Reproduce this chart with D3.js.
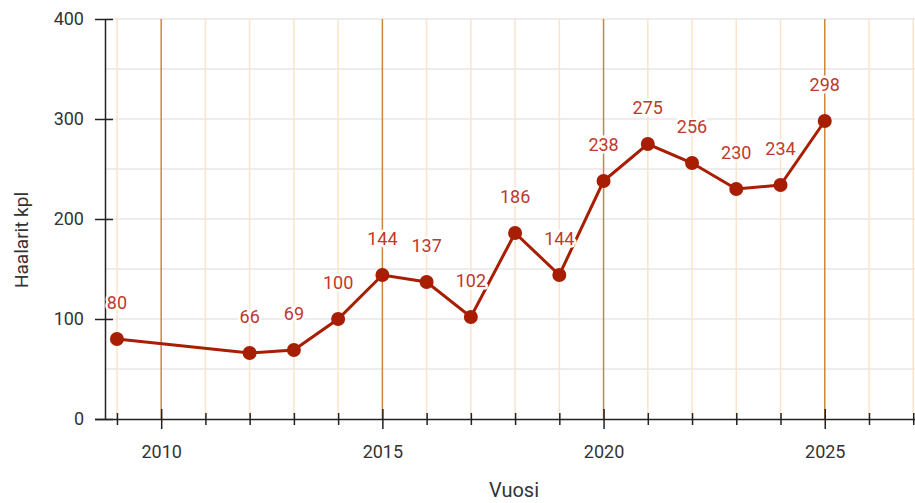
<!DOCTYPE html>
<html>
<head>
<meta charset="utf-8">
<script src="https://cdn.jsdelivr.net/npm/d3@7"></script>
<style>
  body { margin: 0; background: #fff; }
  svg { display: block; font-family: Roboto, sans-serif; }
</style>
</head>
<body>
<div class="canvas"></div>
<script>
// data
const years = [2009, 2012, 2013, 2014, 2015, 2016, 2017, 2018, 2019, 2020, 2021, 2022, 2023, 2024, 2025]
const counts = [80, 66, 69, 100, 144, 137, 102, 186, 144, 238, 275, 256, 230, 234, 298]
const yTicks = [0, 100, 200, 300, 400]
const xMajor = [2010, 2015, 2020, 2025]

const data = years.map((y, i) => ({ year: y, value: counts[i] }))

const dims = { width: 915, height: 503 }
const plot = { left: 105, right: 915, top: 19, bottom: 419 }

const svg = d3.select('.canvas')
    .append('svg')
    .attr('width', dims.width)
    .attr('height', dims.height)

const x = d3.scaleLinear()
    .domain([2008.73, 2027.04])
    .range([plot.left, plot.right])

const y = d3.scaleLinear()
    .domain([0, 400])
    .range([plot.bottom, plot.top])

const xMinor = d3.range(2009, 2028)

// grid: horizontal every 50
svg.append('g')
    .selectAll('line')
    .data(d3.range(50, 401, 50))
    .join('line')
        .attr('x1', plot.left).attr('x2', plot.right)
        .attr('y1', d => y(d)).attr('y2', d => y(d))
        .attr('stroke', '#dcdcdc')
        .attr('stroke-width', 1.2)

// grid: vertical yearly (light) and five-yearly (orange)
svg.append('g')
    .selectAll('line')
    .data(xMinor.filter(d => !xMajor.includes(d)))
    .join('line')
        .attr('x1', d => x(d)).attr('x2', d => x(d))
        .attr('y1', plot.top).attr('y2', plot.bottom)
        .attr('stroke', '#fde3c9')
        .attr('stroke-width', 1.5)

svg.append('g')
    .selectAll('line')
    .data(xMajor)
    .join('line')
        .attr('x1', d => x(d)).attr('x2', d => x(d))
        .attr('y1', plot.top).attr('y2', plot.bottom)
        .attr('stroke', '#cd8638')
        .attr('stroke-width', 1.5)

// axes
const yAxis = d3.axisLeft(y)
    .tickValues(yTicks)
    .tickSizeInner(-10)
    .tickSizeOuter(0)
    .tickPadding(21)

const yG = svg.append('g')
    .attr('transform', `translate(${plot.left},0)`)
    .call(yAxis)
yG.selectAll('.tick line').attr('x1', -10).attr('x2', 8)

const xAxisMinor = d3.axisBottom(x)
    .tickValues(xMinor.filter(d => !xMajor.includes(d)))
    .tickFormat('')
    .tickSize(6)
    .tickSizeOuter(0)

const xMinorG = svg.append('g')
    .attr('transform', `translate(0,${plot.bottom})`)
    .call(xAxisMinor)
xMinorG.selectAll('.tick line').attr('y1', -6).attr('y2', 6)
xMinorG.select('.domain').remove()

const xAxis = d3.axisBottom(x)
    .tickValues(xMajor)
    .tickFormat(d3.format('d'))
    .tickSize(10)
    .tickSizeOuter(0)
    .tickPadding(16)

const xG = svg.append('g')
    .attr('transform', `translate(0,${plot.bottom})`)
    .call(xAxis)
xG.selectAll('.tick line').attr('y1', -10).attr('y2', 10)

svg.selectAll('.domain, .tick line')
    .attr('stroke', '#222')
    .attr('stroke-width', 1.5)
xG.select('.domain').attr('d', `M${plot.left - 10},0.5H${plot.right}`)

svg.selectAll('.tick text')
    .attr('font-size', 18)
    .attr('fill', '#333')
    .attr('font-family', 'Roboto, sans-serif')

// axis titles
svg.append('text')
    .attr('transform', `translate(28,240) rotate(-90)`)
    .attr('text-anchor', 'middle')
    .attr('font-size', 19)
    .attr('fill', '#333')
    .text('Haalarit kpl')

svg.append('text')
    .attr('x', 514)
    .attr('y', 497)
    .attr('text-anchor', 'middle')
    .attr('font-size', 20)
    .attr('fill', '#333')
    .text('Vuosi')

// line + points
const line = d3.line()
    .x(d => x(d.year))
    .y(d => y(d.value))

svg.append('path')
    .datum(data)
    .attr('d', line)
    .attr('fill', 'none')
    .attr('stroke', '#a81e02')
    .attr('stroke-width', 3)

svg.append('g')
    .selectAll('circle')
    .data(data)
    .join('circle')
        .attr('cx', d => x(d.year))
        .attr('cy', d => y(d.value))
        .attr('r', 7)
        .attr('fill', '#a81e02')

// value labels with white halo
svg.append('g')
    .selectAll('text')
    .data(data)
    .join('text')
        .attr('x', d => x(d.year))
        .attr('y', d => y(d.value) - 30)
        .attr('text-anchor', 'middle')
        .attr('font-size', 18)
        .attr('fill', '#c0392b')
        .attr('stroke', '#fff')
        .attr('stroke-width', 5)
        .attr('stroke-linejoin', 'round')
        .attr('paint-order', 'stroke')
        .text(d => d.value)
</script>
</body>
</html>
